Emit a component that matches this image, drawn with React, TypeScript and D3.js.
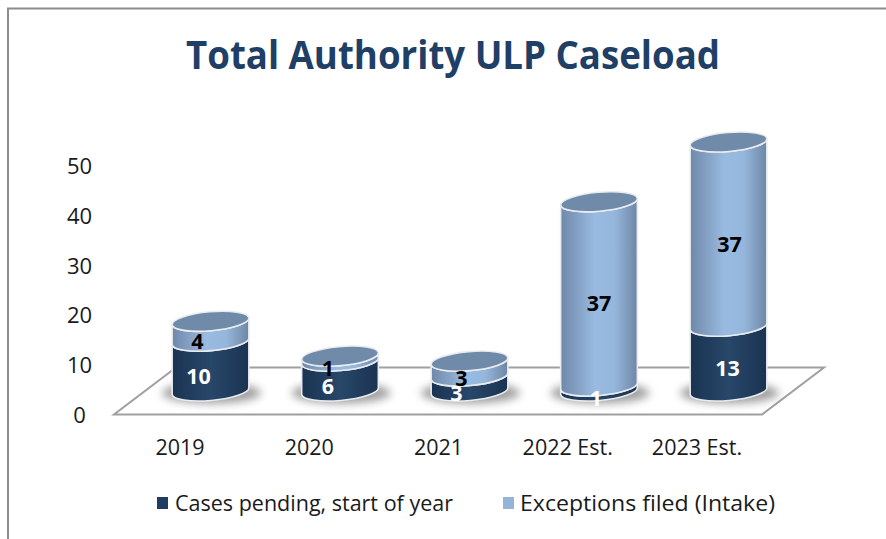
import React from "react";
import * as d3 from "d3";

const categories = ["2019", "2020", "2021", "2022 Est.", "2023 Est."];
const pending = [10, 6, 3, 1, 13];
const exceptions = [4, 1, 3, 37, 37];
const yTicks = [0, 10, 20, 30, 40, 50];
const titleText = "Total Authority ULP Caseload";
const legendLabels = ["Cases pending, start of year", "Exceptions filed (Intake)"];

// horizontal nudges of the value labels, as seen in the 3D rendering
const pendingDx = [-12, -12, -13, -3, -1];
const exceptionsDx = [-13, -12, -8, 0, 1];

const W = 886, H = 539;
const FONT = "'Open Sans', 'Noto Sans', sans-serif";
const y = d3.scaleLinear().domain([0, 50]).range([414, 165]);
const xCyl = d3.scalePoint<string>().domain(categories).range([210.5, 728.5]);
const xLab = d3.scalePoint<string>().domain(categories).range([180, 697]);
const DEPTH = 23; // lift of the cylinder bases above the axis zero
const RX = 38.5, RY = 9.5, TILT = -5;
const rad = (TILT * Math.PI) / 180;
const ex = RX * Math.cos(rad), ey = RX * Math.sin(rad);

const bandPath = (cx: number, yBottom: number, yTop: number) =>
  `M${cx - ex},${yTop - ey} A${RX},${RY} ${TILT} 0 0 ${cx + ex},${yTop + ey}` +
  ` L${cx + ex},${yBottom + ey} A${RX},${RY} ${TILT} 0 1 ${cx - ex},${yBottom - ey} Z`;

const floor = d3.line()([[114, 414.5], [762, 414.5], [824, 367.5], [176, 367.5]]) + "Z";

export default function App() {
  return (
    <svg width={W} height={H} style={{ position: "absolute", left: 0, top: 0, background: "#fff" }} fontFamily={FONT}>
      <defs>
        <linearGradient id="dark" x1="0" x2="1" y1="0" y2="0">
          <stop offset="0" stopColor="#1a3352" />
          <stop offset="0.5" stopColor="#284769" />
          <stop offset="1" stopColor="#1a3352" />
        </linearGradient>
        <linearGradient id="light" x1="0" x2="1" y1="0" y2="0">
          <stop offset="0" stopColor="#6f88a9" />
          <stop offset="0.45" stopColor="#9abbe1" />
          <stop offset="0.7" stopColor="#96b7dc" />
          <stop offset="1" stopColor="#6d86a6" />
        </linearGradient>
        <filter id="blur" x="-30%" y="-80%" width="160%" height="260%">
          <feGaussianBlur stdDeviation="4.5" />
        </filter>
      </defs>

      <path d="M8,539 V8.5 H886" fill="none" stroke="#8c8c8c" strokeWidth={2} />

      <text x={453} y={69} textAnchor="middle" fontSize={40} fontWeight={700} fill="#1f3f66" textLength={534} lengthAdjust="spacingAndGlyphs">
        {titleText}
      </text>

      {yTicks.map((t) => (
        <text key={t} x={79.5} y={y(t) + 9} textAnchor="middle" fontSize={22} fill="#1a1a1a">{t}</text>
      ))}

      <path d={floor} fill="#fff" stroke="#a0a0a0" strokeWidth={2} />

      {categories.map((c) => (
        <text key={c} x={xLab(c)} y={454.5} textAnchor="middle" fontSize={21.5} fill="#1a1a1a">{c}</text>
      ))}

      {categories.map((c) => (
        <ellipse key={c} cx={xCyl(c)! + 1} cy={y(0) - DEPTH + 2} rx={RX + 11} ry={RY + 1} fill="#777" opacity={0.7} filter="url(#blur)" />
      ))}

      {categories.map((c, i) => {
        const cx = xCyl(c)!;
        const lift = (v: number) => y(v) - DEPTH;
        const y0 = lift(0), y1 = lift(pending[i]), y2 = lift(pending[i] + exceptions[i]);
        return (
          <g key={c} stroke="#e9ecef" strokeWidth={1.6}>
            <path d={bandPath(cx, y0, y1)} fill="url(#dark)" />
            <path d={bandPath(cx, y1, y2)} fill="url(#light)" />
            <ellipse cx={0} cy={0} rx={RX} ry={RY} fill="#708aa9" transform={`translate(${cx},${y2}) rotate(${TILT})`} />
          </g>
        );
      })}

      {categories.map((c, i) => {
        const cx = xCyl(c)!;
        const yMidA = y(pending[i] / 2) - DEPTH + 17.5;
        const yMidB = y(pending[i] + exceptions[i] / 2) - DEPTH + 17.5;
        return (
          <g key={c} fontSize={21.5} fontWeight={700} textAnchor="middle">
            <text x={cx + pendingDx[i]} y={yMidA} fill="#fff">{pending[i]}</text>
            <text x={cx + exceptionsDx[i]} y={yMidB} fill="#000">{exceptions[i]}</text>
          </g>
        );
      })}

      <rect x={157} y={497} width={11} height={12} fill="#1f3d63" />
      <text x={175} y={510.5} fontSize={21.5} fill="#1a1a1a" textLength={278} lengthAdjust="spacingAndGlyphs">{legendLabels[0]}</text>
      <rect x={503} y={497} width={11} height={12} fill="#94b3d8" />
      <text x={520} y={510.5} fontSize={21.5} fill="#1a1a1a" textLength={255} lengthAdjust="spacingAndGlyphs">{legendLabels[1]}</text>
    </svg>
  );
}
